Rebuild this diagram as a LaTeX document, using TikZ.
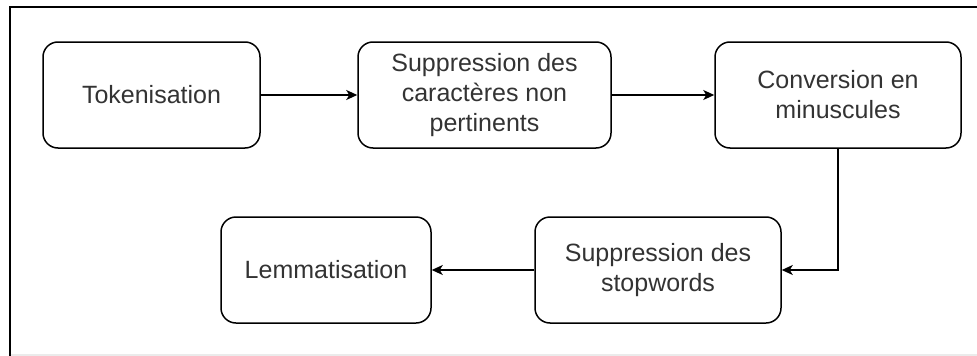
\documentclass[tikz,border=0pt]{standalone}
\usepackage{fontspec}
\setmainfont{Liberation Sans}
\usetikzlibrary{arrows.meta}

\tikzset{
  stepbox/.style={draw, line width=1.5pt, rounded corners=15pt, align=center,
    text=black!80, font=\fontsize{25}{30}\selectfont, inner sep=0pt},
  flow/.style={line width=1.5pt, -{Stealth[length=11pt,width=10pt,inset=3pt]}}
}

\begin{document}
\begin{tikzpicture}[x=1pt,y=-1pt]

\useasboundingbox (0,0) rectangle (977,356);

% frame
\draw[line width=2pt] (9.5,356) -- (9.5,7) -- (977,7);
\draw[black!8, line width=1.5pt] (10.5,355) -- (977,355);

% nodes
{
\node[stepbox, minimum width=217pt, minimum height=106pt] (tok) at (151.5,95) {Tokenisation};
\node[stepbox, minimum width=253pt, minimum height=106pt] (supp) at (484.5,95) {Suppression des\\caractères non\\pertinents};
\node[stepbox, minimum width=246pt, minimum height=106pt] (conv) at (838,95) {Conversion en\\minuscules};
\node[stepbox, minimum width=246pt, minimum height=106pt] (stop) at (658,270) {Suppression des\\stopwords};
\node[stepbox, minimum width=210pt, minimum height=106pt] (lemm) at (326,270) {Lemmatisation};
}

% arrows
\draw[flow] (tok) -- (supp);
\draw[flow] (supp) -- (conv);
\draw[flow] (conv.south) |- (stop.east);
\draw[flow] (stop) -- (lemm);

\end{tikzpicture}
\end{document}
